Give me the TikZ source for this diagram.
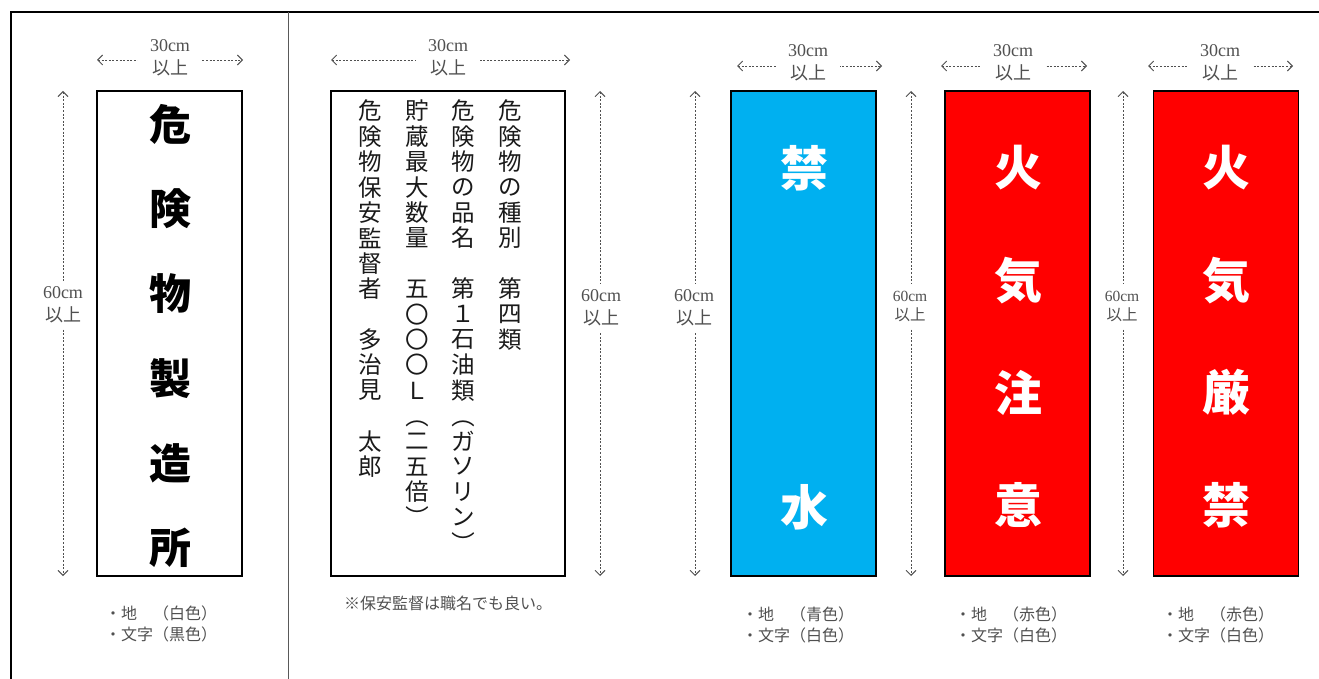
\documentclass[tikz,border=0pt]{standalone}
\usepackage{fontspec}
\setmainfont{Liberation Serif}
\newfontfamily\jp{Noto Sans CJK JP}
\usetikzlibrary{arrows.meta}
\definecolor{signblue}{HTML}{00B0F0}
\definecolor{signred}{HTML}{FF0000}
\definecolor{labelgray}{HTML}{505050}
\definecolor{inkdark}{HTML}{1A1A1A}
\tikzset{
  signbox/.style={draw=black, line width=1.2pt, minimum width=145pt, minimum height=485pt, inner sep=0pt},
  bigchar/.style={font=\jp\bfseries\fontsize{42}{42}\selectfont, inner sep=0pt},
  colchar/.style={font=\jp\bfseries\fontsize{48}{48}\selectfont, text=white, inner sep=0pt},
  vchar/.style={font=\jp\fontsize{23.5}{23.5}\selectfont, text=inkdark, inner sep=0pt},
  dimline/.style={draw=labelgray, line width=0.9pt, dash pattern=on 2pt off 1.6pt,
    {Straight Barb[length=5pt,width=10pt]}-{Straight Barb[length=5pt,width=10pt]}},
  wlabel/.style={fill=white, text=labelgray, align=center, font=\fontsize{18}{23}\selectfont, inner xsep=12pt, inner ysep=1pt},
  hlabel/.style={fill=white, text=labelgray, align=center, font=\fontsize{18}{23}\selectfont, inner xsep=1pt, inner ysep=6pt},
  hlabelsmall/.style={fill=white, text=labelgray, align=center, font=\fontsize{15.5}{19}\selectfont, inner xsep=1pt, inner ysep=7pt},
  notelabel/.style={text=labelgray, align=left, anchor=west, font=\jp\fontsize{16}{21}\selectfont, inner sep=0pt},
}
\begin{document}
\begin{tikzpicture}[x=1pt, y=-1pt]
\useasboundingbox (0,0) rectangle (1319,679);
% frame
\draw[line width=1.3pt, black] (11,679) -- (11,12) -- (1319,12);
\draw[line width=1pt, gray!70!black] (288,12) -- (288,679);

% ---------- sign 1 ----------
\node[signbox, fill=white] (s1) at (169.5,333.5) {};
\foreach \ch [count=\i] in {危,険,物,製,造,所}
  \node[bigchar] (t1-\i) at (170,{124+84.8*(\i-1)}) {\ch};
\coordinate (w1a) at (97,60); \coordinate (w1b) at (243,60);
\draw[dimline] (w1a) -- (w1b);
\node[wlabel] (w1t) at (170,58) {30cm\\{\jp 以上}};
\coordinate (h1a) at (63,91); \coordinate (h1b) at (63,576);
\draw[dimline] (h1a) -- (h1b);
\node[hlabel] (h1t) at (63,305) {60cm\\{\jp 以上}};
\node[notelabel] (n1) at (105,623.5) {・地　（白色）\\・文字（黒色）};

% ---------- sign 2 ----------
\node[signbox, fill=white, minimum width=234pt] (s2) at (448,333.5) {};
\foreach \ch [count=\i] in {危,険,物,の,種,別,　,第,四,類}
  \node[vchar] (c1-\i) at (510,{111+25.4*(\i-1)}) {\ch};
\foreach \ch [count=\i] in {危,険,物,の,品,名,　,第,１,石,油,類,{\rotatebox{-90}{（}},ガ,ソ,リ,ン,{\rotatebox{-90}{）}}}
  \node[vchar] (c2-\i) at (463,{111+25.4*(\i-1)}) {\ch};
\foreach \ch [count=\i] in {貯,蔵,最,大,数,量,　,五,〇,〇,〇,Ｌ,{\rotatebox{-90}{（}},二,五,倍,{\rotatebox{-90}{）}}}
  \node[vchar] (c3-\i) at (417,{111+25.4*(\i-1)}) {\ch};
\foreach \ch [count=\i] in {危,険,物,保,安,監,督,者,　,多,治,見,　,太,郎}
  \node[vchar] (c4-\i) at (370,{111+25.4*(\i-1)}) {\ch};
\coordinate (w2a) at (331,60); \coordinate (w2b) at (570,60);
\draw[dimline] (w2a) -- (w2b);
\node[wlabel] (w2t) at (448,58) {30cm\\{\jp 以上}};
\coordinate (h2a) at (600,91); \coordinate (h2b) at (600,576);
\draw[dimline] (h2a) -- (h2b);
\node[hlabel] (h2t) at (601,308) {60cm\\{\jp 以上}};
\node[text=labelgray, font=\jp\fontsize{16}{21}\selectfont, inner sep=0pt] (n2) at (448,603) {※保安監督は職名でも良い。};

% ---------- sign 3 ----------
\node[signbox, fill=signblue] (s3) at (803.5,333.5) {};
\node[colchar] (t3-1) at (804,168) {禁};
\node[colchar] (t3-2) at (804,507) {水};
\coordinate (w3a) at (737,66); \coordinate (w3b) at (882,66);
\draw[dimline] (w3a) -- (w3b);
\node[wlabel] (w3t) at (808,63) {30cm\\{\jp 以上}};
\coordinate (h3a) at (695,91); \coordinate (h3b) at (695,576);
\draw[dimline] (h3a) -- (h3b);
\node[hlabel] (h3t) at (694,308) {60cm\\{\jp 以上}};
\node[notelabel] (n3) at (742,625) {・地　（青色）\\・文字（白色）};

% ---------- sign 4 ----------
\node[signbox, fill=signred] (s4) at (1017.5,333.5) {};
\foreach \ch [count=\i] in {火,気,注,意}
  \node[colchar] (t4-\i) at (1018,{168+112.3*(\i-1)}) {\ch};
\coordinate (w4a) at (941,66); \coordinate (w4b) at (1087,66);
\draw[dimline] (w4a) -- (w4b);
\node[wlabel] (w4t) at (1013,63) {30cm\\{\jp 以上}};
\coordinate (h4a) at (911,91); \coordinate (h4b) at (911,576);
\draw[dimline] (h4a) -- (h4b);
\node[hlabelsmall] (h4t) at (910,306) {60cm\\{\jp 以上}};
\node[notelabel] (n4) at (955,625) {・地　（赤色）\\・文字（白色）};

% ---------- sign 5 ----------
\node[signbox, fill=signred] (s5) at (1226,333.5) {};
\foreach \ch [count=\i] in {火,気,厳,禁}
  \node[colchar] (t5-\i) at (1226,{168+112.3*(\i-1)}) {\ch};
\coordinate (w5a) at (1148,66); \coordinate (w5b) at (1293,66);
\draw[dimline] (w5a) -- (w5b);
\node[wlabel] (w5t) at (1220,63) {30cm\\{\jp 以上}};
\coordinate (h5a) at (1123,91); \coordinate (h5b) at (1123,576);
\draw[dimline] (h5a) -- (h5b);
\node[hlabelsmall] (h5t) at (1122,306) {60cm\\{\jp 以上}};
\node[notelabel] (n5) at (1162,625) {・地　（赤色）\\・文字（白色）};
\end{tikzpicture}
\end{document}
